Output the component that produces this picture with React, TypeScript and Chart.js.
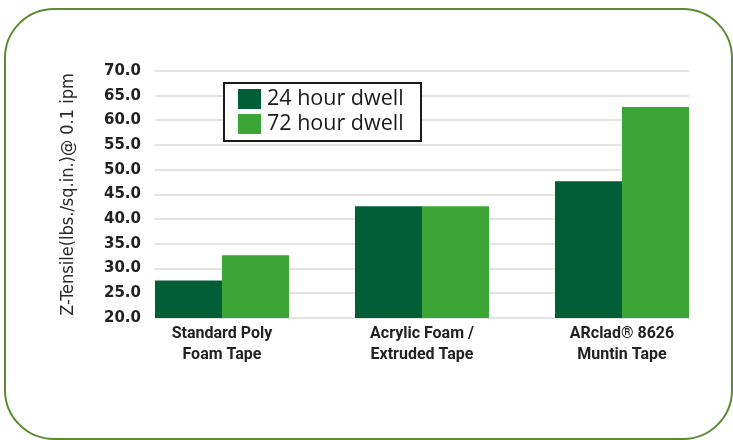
import React, { useEffect, useRef } from "react";
import { Chart, registerables } from "chart.js";

Chart.register(...registerables);

const categories: string[][] = [
  ["Standard Poly", "Foam Tape"],
  ["Acrylic Foam /", "Extruded Tape"],
  ["ARclad\u00AE 8626", "Muntin Tape"],
];
const seriesLabels = ["24 hour dwell", "72 hour dwell"];
const dwell24 = [27.6, 42.6, 47.7];
const dwell72 = [32.7, 42.6, 62.7];
const yTicks = [20, 25, 30, 35, 40, 45, 50, 55, 60, 65, 70];

const DARK = "#005f37";
const LIGHT = "#3ba535";

const legendBox = {
  id: "legendBox",
  afterDraw(chart: any) {
    const ctx = chart.ctx;
    const x = 224, y = 83, w = 197, h = 58;
    ctx.save();
    ctx.fillStyle = "#ffffff";
    ctx.fillRect(x, y, w, h);
    ctx.strokeStyle = "#1a1a1a";
    ctx.lineWidth = 2;
    ctx.strokeRect(x, y, w, h);
    ctx.font = "21.5px 'Open Sans', sans-serif";
    ctx.textBaseline = "middle";
    chart.data.datasets.forEach((ds: any, i: number) => {
      const sy = y + 6 + i * 25;
      ctx.fillStyle = ds.backgroundColor;
      ctx.fillRect(x + 14, sy, 23, 20);
      ctx.fillStyle = "#1a1a1a";
      ctx.fillText(ds.label, x + 43, sy + 10);
    });
    ctx.restore();
  },
};

export default function App() {
  const ref = useRef<HTMLCanvasElement>(null);
  useEffect(() => {
    if (!ref.current) return;
    const chart = new Chart(ref.current, {
      type: "bar",
      data: {
        datasets: [
          {
            label: seriesLabels[0],
            data: dwell24.map((v, i) => ({ x: i, y: v })),
            backgroundColor: DARK,
            borderWidth: 0,
            barPercentage: 1,
            categoryPercentage: 0.67,
          },
          {
            label: seriesLabels[1],
            data: dwell72.map((v, i) => ({ x: i, y: v })),
            backgroundColor: LIGHT,
            borderWidth: 0,
            barPercentage: 1,
            categoryPercentage: 0.67,
          },
        ],
      },
      plugins: [legendBox],
      options: {
        responsive: false,
        animation: false,
        devicePixelRatio: 1,
        layout: { padding: { left: 53, top: 71, right: 44, bottom: 0 } },
        plugins: { legend: { display: false }, tooltip: { enabled: false } },
        scales: {
          x: {
            type: "linear",
            offset: false,
            min: -0.335,
            max: 2.335,
            grid: { display: false, drawTicks: false },
            border: { display: false },
            afterBuildTicks: (s: any) => {
              s.ticks = categories.map((_, i) => ({ value: i }));
            },
            afterFit: (s: any) => {
              s.height = 122;
            },
            ticks: {
              autoSkip: false,
              maxRotation: 0,
              padding: 5,
              color: "#222",
              font: { family: "Roboto, sans-serif", size: 16, weight: "bold", lineHeight: "21px" },
              callback: (v: any) => categories[Math.round(Number(v))] ?? "",
            },
          },
          y: {
            min: yTicks[0],
            max: yTicks[yTicks.length - 1],
            afterBuildTicks: (s: any) => {
              s.ticks = yTicks.map((v) => ({ value: v }));
            },
            afterFit: (s: any) => {
              s.width = 102;
            },
            grid: { color: "#e3e3e3", lineWidth: 2, drawTicks: false },
            border: { display: false },
            ticks: {
              padding: 14,
              color: "#222",
              font: { family: "'DejaVu Sans', sans-serif", size: 15, weight: "bold" },
              callback: (v: any) => Number(v).toFixed(1),
            },
            title: {
              display: true,
              text: "Z-Tensile(lbs./sq.in.)@ 0.1 ipm",
              color: "#2a2a2a",
              padding: { top: 5, bottom: 4 },
              font: { family: "'DejaVu Sans Condensed', sans-serif", size: 18 },
            },
          },
        },
      },
    } as any);
    return () => chart.destroy();
  }, []);

  return (
    <div style={{ position: "absolute", left: 0, top: 0, width: 733, height: 440, background: "#fff", overflow: "hidden" }}>
      <div
        style={{
          position: "absolute",
          left: 4,
          top: 8,
          width: 725,
          height: 428,
          border: "2.5px solid #5b8c32",
          borderRadius: 50,
        }}
      />
      <canvas ref={ref} width={733} height={440} style={{ position: "absolute", left: 0, top: 0 }} />
    </div>
  );
}
